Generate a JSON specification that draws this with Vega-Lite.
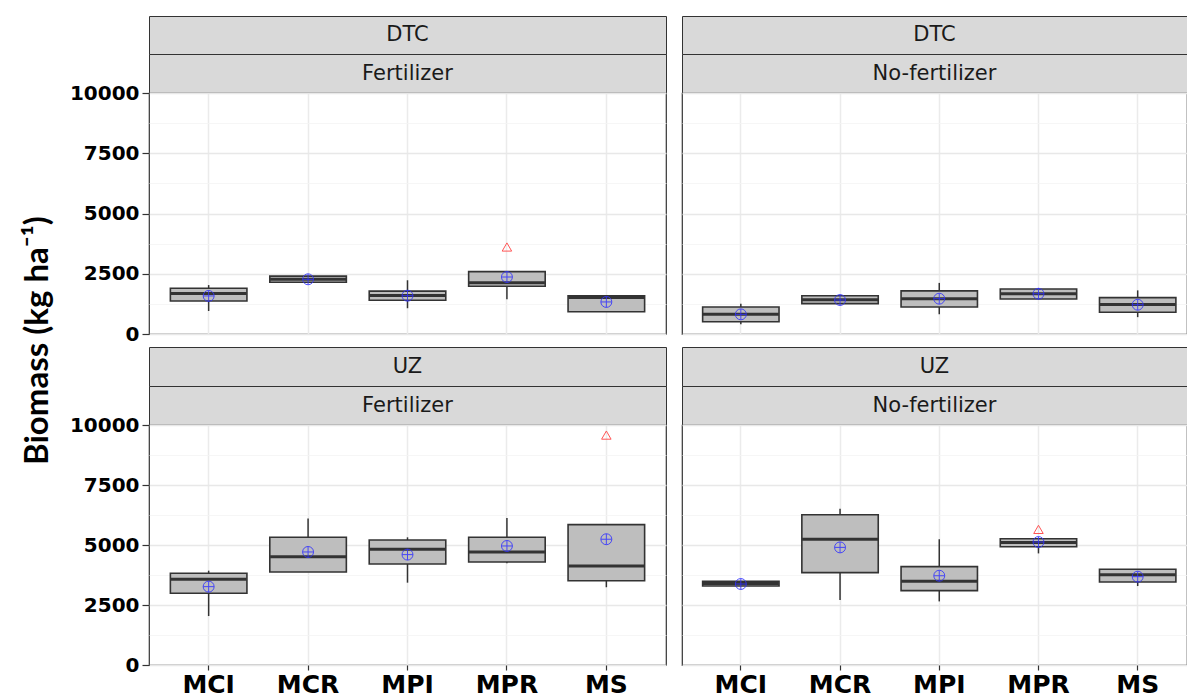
{
  "$schema": "https://vega.github.io/schema/vega-lite/v6.json",
  "padding": {"left": 21, "top": 15, "right": 0, "bottom": 0},
  "background": "white",
  "title": {"text": "Biomass (kg ha⁻¹)", "orient": "left", "anchor": "middle", "font": "Lato", "fontWeight": "bold", "fontSize": 33, "color": "#000000", "offset": 14, "dx": 16},
  "config": {"view": {"stroke": "#333333", "strokeWidth": 1.2}},
  "datasets": {
    "boxes": [
      {"site": "DTC", "treat": "Fertilizer", "cultivar": "MCI", "lo": 955, "q1": 1370, "med": 1680, "q3": 1900, "hi": 2030, "mean": 1580, "out": null},
      {"site": "DTC", "treat": "Fertilizer", "cultivar": "MCR", "lo": 2140, "q1": 2150, "med": 2270, "q3": 2400, "hi": 2420, "mean": 2270, "out": null},
      {"site": "DTC", "treat": "Fertilizer", "cultivar": "MPI", "lo": 1070, "q1": 1400, "med": 1600, "q3": 1780, "hi": 2230, "mean": 1590, "out": null},
      {"site": "DTC", "treat": "Fertilizer", "cultivar": "MPR", "lo": 1440, "q1": 1980, "med": 2130, "q3": 2590, "hi": 2590, "mean": 2365, "out": 3610},
      {"site": "DTC", "treat": "Fertilizer", "cultivar": "MS", "lo": 925, "q1": 925, "med": 1510, "q3": 1590, "hi": 1590, "mean": 1330, "out": null},
      {"site": "DTC", "treat": "No-fertilizer", "cultivar": "MCI", "lo": 400, "q1": 510, "med": 820, "q3": 1120, "hi": 1260, "mean": 815, "out": null},
      {"site": "DTC", "treat": "No-fertilizer", "cultivar": "MCR", "lo": 1260, "q1": 1260, "med": 1420, "q3": 1590, "hi": 1590, "mean": 1410, "out": null},
      {"site": "DTC", "treat": "No-fertilizer", "cultivar": "MPI", "lo": 820, "q1": 1120, "med": 1460, "q3": 1790, "hi": 2120, "mean": 1465, "out": null},
      {"site": "DTC", "treat": "No-fertilizer", "cultivar": "MPR", "lo": 1450, "q1": 1450, "med": 1670, "q3": 1870, "hi": 1870, "mean": 1670, "out": null},
      {"site": "DTC", "treat": "No-fertilizer", "cultivar": "MS", "lo": 700, "q1": 900, "med": 1220, "q3": 1510, "hi": 1810, "mean": 1215, "out": null},
      {"site": "UZ", "treat": "Fertilizer", "cultivar": "MCI", "lo": 2040, "q1": 2990, "med": 3570, "q3": 3820, "hi": 3930, "mean": 3265, "out": null},
      {"site": "UZ", "treat": "Fertilizer", "cultivar": "MCR", "lo": 3875, "q1": 3875, "med": 4510, "q3": 5320, "hi": 6100, "mean": 4710, "out": null},
      {"site": "UZ", "treat": "Fertilizer", "cultivar": "MPI", "lo": 3430, "q1": 4210, "med": 4820, "q3": 5210, "hi": 5320, "mean": 4600, "out": null},
      {"site": "UZ", "treat": "Fertilizer", "cultivar": "MPR", "lo": 4240, "q1": 4290, "med": 4710, "q3": 5320, "hi": 6125, "mean": 4960, "out": null},
      {"site": "UZ", "treat": "Fertilizer", "cultivar": "MS", "lo": 3240, "q1": 3510, "med": 4125, "q3": 5850, "hi": 5850, "mean": 5240, "out": 9580},
      {"site": "UZ", "treat": "No-fertilizer", "cultivar": "MCI", "lo": 3290, "q1": 3290, "med": 3400, "q3": 3490, "hi": 3490, "mean": 3375, "out": null},
      {"site": "UZ", "treat": "No-fertilizer", "cultivar": "MCR", "lo": 2710, "q1": 3850, "med": 5240, "q3": 6260, "hi": 6510, "mean": 4900, "out": null},
      {"site": "UZ", "treat": "No-fertilizer", "cultivar": "MPI", "lo": 2650, "q1": 3100, "med": 3490, "q3": 4100, "hi": 5240, "mean": 3720, "out": null},
      {"site": "UZ", "treat": "No-fertilizer", "cultivar": "MPR", "lo": 4650, "q1": 4930, "med": 5100, "q3": 5260, "hi": 5260, "mean": 5125, "out": 5650},
      {"site": "UZ", "treat": "No-fertilizer", "cultivar": "MS", "lo": 3290, "q1": 3460, "med": 3760, "q3": 3990, "hi": 3990, "mean": 3680, "out": null}
    ]
  },
  "vconcat": [
    {
      "hconcat": [
        {
          "vconcat": [
            {"width": 517, "height": 38, "data": {"values": [{"label": "DTC"}]}, "view": {"fill": "#D9D9D9", "stroke": "#333333"}, "mark": {"type": "text", "font": "DejaVu Sans", "fontSize": 21, "color": "#1A1A1A"}, "encoding": {"text": {"field": "label"}}},
            {"width": 517, "height": 39, "data": {"values": [{"label": "Fertilizer"}]}, "view": {"fill": "#D9D9D9", "stroke": "#333333"}, "mark": {"type": "text", "font": "DejaVu Sans", "fontSize": 21, "color": "#1A1A1A"}, "encoding": {"text": {"field": "label"}}},
            {
              "width": 517, "height": 241,
              "data": {"name": "boxes"},
              "transform": [{"filter": "datum.site === 'DTC' && datum.treat === 'Fertilizer'"}],
              "encoding": {"x": {"field": "cultivar", "type": "nominal", "sort": ["MCI", "MCR", "MPI", "MPR", "MS"], "scale": {"paddingInner": 0.23, "paddingOuter": 0.215}, "axis": {"title": null, "bandPosition": 0.5, "labels": false, "ticks": false, "domain": false, "grid": true, "gridColor": "#EBEBEB", "gridWidth": 1.5}}},
              "layer": [
                {"mark": {"type": "rule", "color": "#333333", "strokeWidth": 1.5}, "encoding": {"y": {"field": "lo", "type": "quantitative", "scale": {"domain": [0, 10000], "nice": false}, "axis": {"title": null, "values": [0, 1250, 2500, 3750, 5000, 6250, 7500, 8750, 10000], "format": "d", "labelExpr": "datum.value % 2500 === 0 ? datum.label : ''", "labelFont": "DejaVu Sans", "labelFontWeight": "bold", "labelFontSize": 20, "labelColor": "#000000", "tickSize": 7, "tickWidth": 1.2, "tickColor": {"condition": {"test": "datum.value % 2500 !== 0", "value": "transparent"}, "value": "#333333"}, "labelPadding": 3, "domain": false, "grid": true, "gridColor": {"condition": {"test": "datum.value % 2500 !== 0", "value": "#F4F4F4"}, "value": "#E8E8E8"}, "gridWidth": {"condition": {"test": "datum.value % 2500 !== 0", "value": 0.8}, "value": 1.3}}}, "y2": {"field": "hi"}}},
                {"mark": {"type": "bar", "fill": "#BEBEBE", "stroke": "#333333", "strokeWidth": 1.6}, "encoding": {"y": {"field": "q1", "type": "quantitative", "axis": {"title": null, "values": [0, 1250, 2500, 3750, 5000, 6250, 7500, 8750, 10000], "format": "d", "labelExpr": "datum.value % 2500 === 0 ? datum.label : ''", "labelFont": "DejaVu Sans", "labelFontWeight": "bold", "labelFontSize": 20, "labelColor": "#000000", "tickSize": 7, "tickWidth": 1.2, "tickColor": {"condition": {"test": "datum.value % 2500 !== 0", "value": "transparent"}, "value": "#333333"}, "labelPadding": 3, "domain": false, "grid": true, "gridColor": {"condition": {"test": "datum.value % 2500 !== 0", "value": "#F4F4F4"}, "value": "#E8E8E8"}, "gridWidth": {"condition": {"test": "datum.value % 2500 !== 0", "value": 0.8}, "value": 1.3}}}, "y2": {"field": "q3"}}},
                {"mark": {"type": "tick", "color": "#333333", "thickness": 3, "size": 76, "opacity": 1}, "encoding": {"y": {"field": "med", "type": "quantitative", "axis": {"title": null, "values": [0, 1250, 2500, 3750, 5000, 6250, 7500, 8750, 10000], "format": "d", "labelExpr": "datum.value % 2500 === 0 ? datum.label : ''", "labelFont": "DejaVu Sans", "labelFontWeight": "bold", "labelFontSize": 20, "labelColor": "#000000", "tickSize": 7, "tickWidth": 1.2, "tickColor": {"condition": {"test": "datum.value % 2500 !== 0", "value": "transparent"}, "value": "#333333"}, "labelPadding": 3, "domain": false, "grid": true, "gridColor": {"condition": {"test": "datum.value % 2500 !== 0", "value": "#F4F4F4"}, "value": "#E8E8E8"}, "gridWidth": {"condition": {"test": "datum.value % 2500 !== 0", "value": 0.8}, "value": 1.3}}}}},
                {"mark": {"type": "point", "shape": "M-1,0A1,1,0,1,1,1,0A1,1,0,1,1,-1,0M-1,0L1,0M0,-1L0,1", "filled": false, "stroke": "#3333FF", "strokeWidth": 1, "size": 120, "opacity": 0.85}, "encoding": {"y": {"field": "mean", "type": "quantitative", "axis": {"title": null, "values": [0, 1250, 2500, 3750, 5000, 6250, 7500, 8750, 10000], "format": "d", "labelExpr": "datum.value % 2500 === 0 ? datum.label : ''", "labelFont": "DejaVu Sans", "labelFontWeight": "bold", "labelFontSize": 20, "labelColor": "#000000", "tickSize": 7, "tickWidth": 1.2, "tickColor": {"condition": {"test": "datum.value % 2500 !== 0", "value": "transparent"}, "value": "#333333"}, "labelPadding": 3, "domain": false, "grid": true, "gridColor": {"condition": {"test": "datum.value % 2500 !== 0", "value": "#F4F4F4"}, "value": "#E8E8E8"}, "gridWidth": {"condition": {"test": "datum.value % 2500 !== 0", "value": 0.8}, "value": 1.3}}}}},
                {"mark": {"type": "point", "shape": "triangle-up", "filled": false, "stroke": "#FF5555", "strokeWidth": 1, "size": 90, "opacity": 1}, "encoding": {"y": {"field": "out", "type": "quantitative", "axis": {"title": null, "values": [0, 1250, 2500, 3750, 5000, 6250, 7500, 8750, 10000], "format": "d", "labelExpr": "datum.value % 2500 === 0 ? datum.label : ''", "labelFont": "DejaVu Sans", "labelFontWeight": "bold", "labelFontSize": 20, "labelColor": "#000000", "tickSize": 7, "tickWidth": 1.2, "tickColor": {"condition": {"test": "datum.value % 2500 !== 0", "value": "transparent"}, "value": "#333333"}, "labelPadding": 3, "domain": false, "grid": true, "gridColor": {"condition": {"test": "datum.value % 2500 !== 0", "value": "#F4F4F4"}, "value": "#E8E8E8"}, "gridWidth": {"condition": {"test": "datum.value % 2500 !== 0", "value": 0.8}, "value": 1.3}}}}}
              ]
            }
          ],
          "spacing": 0, "bounds": "flush"
        },
        {
          "vconcat": [
            {"width": 505, "height": 38, "data": {"values": [{"label": "DTC"}]}, "view": {"fill": "#D9D9D9", "stroke": "#333333"}, "mark": {"type": "text", "font": "DejaVu Sans", "fontSize": 21, "color": "#1A1A1A"}, "encoding": {"text": {"field": "label"}}},
            {"width": 505, "height": 39, "data": {"values": [{"label": "No-fertilizer"}]}, "view": {"fill": "#D9D9D9", "stroke": "#333333"}, "mark": {"type": "text", "font": "DejaVu Sans", "fontSize": 21, "color": "#1A1A1A"}, "encoding": {"text": {"field": "label"}}},
            {
              "width": 505, "height": 241,
              "data": {"name": "boxes"},
              "transform": [{"filter": "datum.site === 'DTC' && datum.treat === 'No-fertilizer'"}],
              "encoding": {"x": {"field": "cultivar", "type": "nominal", "sort": ["MCI", "MCR", "MPI", "MPR", "MS"], "scale": {"paddingInner": 0.23, "paddingOuter": 0.16, "align": 0.65}, "axis": {"title": null, "bandPosition": 0.5, "labels": false, "ticks": false, "domain": false, "grid": true, "gridColor": "#EBEBEB", "gridWidth": 1.5}}},
              "layer": [
                {"mark": {"type": "rule", "color": "#333333", "strokeWidth": 1.5}, "encoding": {"y": {"field": "lo", "type": "quantitative", "scale": {"domain": [0, 10000], "nice": false}, "axis": {"title": null, "values": [0, 1250, 2500, 3750, 5000, 6250, 7500, 8750, 10000], "labels": false, "ticks": false, "domain": false, "grid": true, "gridColor": {"condition": {"test": "datum.value % 2500 !== 0", "value": "#F4F4F4"}, "value": "#E8E8E8"}, "gridWidth": {"condition": {"test": "datum.value % 2500 !== 0", "value": 0.8}, "value": 1.3}}}, "y2": {"field": "hi"}}},
                {"mark": {"type": "bar", "fill": "#BEBEBE", "stroke": "#333333", "strokeWidth": 1.6}, "encoding": {"y": {"field": "q1", "type": "quantitative", "axis": {"title": null, "values": [0, 1250, 2500, 3750, 5000, 6250, 7500, 8750, 10000], "labels": false, "ticks": false, "domain": false, "grid": true, "gridColor": {"condition": {"test": "datum.value % 2500 !== 0", "value": "#F4F4F4"}, "value": "#E8E8E8"}, "gridWidth": {"condition": {"test": "datum.value % 2500 !== 0", "value": 0.8}, "value": 1.3}}}, "y2": {"field": "q3"}}},
                {"mark": {"type": "tick", "color": "#333333", "thickness": 3, "size": 76, "opacity": 1}, "encoding": {"y": {"field": "med", "type": "quantitative", "axis": {"title": null, "values": [0, 1250, 2500, 3750, 5000, 6250, 7500, 8750, 10000], "labels": false, "ticks": false, "domain": false, "grid": true, "gridColor": {"condition": {"test": "datum.value % 2500 !== 0", "value": "#F4F4F4"}, "value": "#E8E8E8"}, "gridWidth": {"condition": {"test": "datum.value % 2500 !== 0", "value": 0.8}, "value": 1.3}}}}},
                {"mark": {"type": "point", "shape": "M-1,0A1,1,0,1,1,1,0A1,1,0,1,1,-1,0M-1,0L1,0M0,-1L0,1", "filled": false, "stroke": "#3333FF", "strokeWidth": 1, "size": 120, "opacity": 0.85}, "encoding": {"y": {"field": "mean", "type": "quantitative", "axis": {"title": null, "values": [0, 1250, 2500, 3750, 5000, 6250, 7500, 8750, 10000], "labels": false, "ticks": false, "domain": false, "grid": true, "gridColor": {"condition": {"test": "datum.value % 2500 !== 0", "value": "#F4F4F4"}, "value": "#E8E8E8"}, "gridWidth": {"condition": {"test": "datum.value % 2500 !== 0", "value": 0.8}, "value": 1.3}}}}},
                {"mark": {"type": "point", "shape": "triangle-up", "filled": false, "stroke": "#FF5555", "strokeWidth": 1, "size": 90, "opacity": 1}, "encoding": {"y": {"field": "out", "type": "quantitative", "axis": {"title": null, "values": [0, 1250, 2500, 3750, 5000, 6250, 7500, 8750, 10000], "labels": false, "ticks": false, "domain": false, "grid": true, "gridColor": {"condition": {"test": "datum.value % 2500 !== 0", "value": "#F4F4F4"}, "value": "#E8E8E8"}, "gridWidth": {"condition": {"test": "datum.value % 2500 !== 0", "value": 0.8}, "value": 1.3}}}}}
              ]
            }
          ],
          "spacing": 0, "bounds": "flush"
        }
      ],
      "spacing": 14
    },
    {
      "hconcat": [
        {
          "vconcat": [
            {"width": 517, "height": 39, "data": {"values": [{"label": "UZ"}]}, "view": {"fill": "#D9D9D9", "stroke": "#333333"}, "mark": {"type": "text", "font": "DejaVu Sans", "fontSize": 21, "color": "#1A1A1A"}, "encoding": {"text": {"field": "label"}}},
            {"width": 517, "height": 39, "data": {"values": [{"label": "Fertilizer"}]}, "view": {"fill": "#D9D9D9", "stroke": "#333333"}, "mark": {"type": "text", "font": "DejaVu Sans", "fontSize": 21, "color": "#1A1A1A"}, "encoding": {"text": {"field": "label"}}},
            {
              "width": 517, "height": 240,
              "data": {"name": "boxes"},
              "transform": [{"filter": "datum.site === 'UZ' && datum.treat === 'Fertilizer'"}],
              "encoding": {"x": {"field": "cultivar", "type": "nominal", "sort": ["MCI", "MCR", "MPI", "MPR", "MS"], "scale": {"paddingInner": 0.23, "paddingOuter": 0.215}, "axis": {"title": null, "bandPosition": 0.5, "labelAngle": 0, "labelFont": "DejaVu Sans", "labelFontWeight": "bold", "labelFontSize": 25, "labelColor": "#000000", "tickSize": 5, "tickWidth": 1.2, "tickColor": "#333333", "labelPadding": 2, "domain": false, "grid": true, "gridColor": "#EBEBEB", "gridWidth": 1.5}}},
              "layer": [
                {"mark": {"type": "rule", "color": "#333333", "strokeWidth": 1.5}, "encoding": {"y": {"field": "lo", "type": "quantitative", "scale": {"domain": [0, 10000], "nice": false}, "axis": {"title": null, "values": [0, 1250, 2500, 3750, 5000, 6250, 7500, 8750, 10000], "format": "d", "labelExpr": "datum.value % 2500 === 0 ? datum.label : ''", "labelFont": "DejaVu Sans", "labelFontWeight": "bold", "labelFontSize": 20, "labelColor": "#000000", "tickSize": 7, "tickWidth": 1.2, "tickColor": {"condition": {"test": "datum.value % 2500 !== 0", "value": "transparent"}, "value": "#333333"}, "labelPadding": 3, "domain": false, "grid": true, "gridColor": {"condition": {"test": "datum.value % 2500 !== 0", "value": "#F4F4F4"}, "value": "#E8E8E8"}, "gridWidth": {"condition": {"test": "datum.value % 2500 !== 0", "value": 0.8}, "value": 1.3}}}, "y2": {"field": "hi"}}},
                {"mark": {"type": "bar", "fill": "#BEBEBE", "stroke": "#333333", "strokeWidth": 1.6}, "encoding": {"y": {"field": "q1", "type": "quantitative", "axis": {"title": null, "values": [0, 1250, 2500, 3750, 5000, 6250, 7500, 8750, 10000], "format": "d", "labelExpr": "datum.value % 2500 === 0 ? datum.label : ''", "labelFont": "DejaVu Sans", "labelFontWeight": "bold", "labelFontSize": 20, "labelColor": "#000000", "tickSize": 7, "tickWidth": 1.2, "tickColor": {"condition": {"test": "datum.value % 2500 !== 0", "value": "transparent"}, "value": "#333333"}, "labelPadding": 3, "domain": false, "grid": true, "gridColor": {"condition": {"test": "datum.value % 2500 !== 0", "value": "#F4F4F4"}, "value": "#E8E8E8"}, "gridWidth": {"condition": {"test": "datum.value % 2500 !== 0", "value": 0.8}, "value": 1.3}}}, "y2": {"field": "q3"}}},
                {"mark": {"type": "tick", "color": "#333333", "thickness": 3, "size": 76, "opacity": 1}, "encoding": {"y": {"field": "med", "type": "quantitative", "axis": {"title": null, "values": [0, 1250, 2500, 3750, 5000, 6250, 7500, 8750, 10000], "format": "d", "labelExpr": "datum.value % 2500 === 0 ? datum.label : ''", "labelFont": "DejaVu Sans", "labelFontWeight": "bold", "labelFontSize": 20, "labelColor": "#000000", "tickSize": 7, "tickWidth": 1.2, "tickColor": {"condition": {"test": "datum.value % 2500 !== 0", "value": "transparent"}, "value": "#333333"}, "labelPadding": 3, "domain": false, "grid": true, "gridColor": {"condition": {"test": "datum.value % 2500 !== 0", "value": "#F4F4F4"}, "value": "#E8E8E8"}, "gridWidth": {"condition": {"test": "datum.value % 2500 !== 0", "value": 0.8}, "value": 1.3}}}}},
                {"mark": {"type": "point", "shape": "M-1,0A1,1,0,1,1,1,0A1,1,0,1,1,-1,0M-1,0L1,0M0,-1L0,1", "filled": false, "stroke": "#3333FF", "strokeWidth": 1, "size": 120, "opacity": 0.85}, "encoding": {"y": {"field": "mean", "type": "quantitative", "axis": {"title": null, "values": [0, 1250, 2500, 3750, 5000, 6250, 7500, 8750, 10000], "format": "d", "labelExpr": "datum.value % 2500 === 0 ? datum.label : ''", "labelFont": "DejaVu Sans", "labelFontWeight": "bold", "labelFontSize": 20, "labelColor": "#000000", "tickSize": 7, "tickWidth": 1.2, "tickColor": {"condition": {"test": "datum.value % 2500 !== 0", "value": "transparent"}, "value": "#333333"}, "labelPadding": 3, "domain": false, "grid": true, "gridColor": {"condition": {"test": "datum.value % 2500 !== 0", "value": "#F4F4F4"}, "value": "#E8E8E8"}, "gridWidth": {"condition": {"test": "datum.value % 2500 !== 0", "value": 0.8}, "value": 1.3}}}}},
                {"mark": {"type": "point", "shape": "triangle-up", "filled": false, "stroke": "#FF5555", "strokeWidth": 1, "size": 90, "opacity": 1}, "encoding": {"y": {"field": "out", "type": "quantitative", "axis": {"title": null, "values": [0, 1250, 2500, 3750, 5000, 6250, 7500, 8750, 10000], "format": "d", "labelExpr": "datum.value % 2500 === 0 ? datum.label : ''", "labelFont": "DejaVu Sans", "labelFontWeight": "bold", "labelFontSize": 20, "labelColor": "#000000", "tickSize": 7, "tickWidth": 1.2, "tickColor": {"condition": {"test": "datum.value % 2500 !== 0", "value": "transparent"}, "value": "#333333"}, "labelPadding": 3, "domain": false, "grid": true, "gridColor": {"condition": {"test": "datum.value % 2500 !== 0", "value": "#F4F4F4"}, "value": "#E8E8E8"}, "gridWidth": {"condition": {"test": "datum.value % 2500 !== 0", "value": 0.8}, "value": 1.3}}}}}
              ]
            }
          ],
          "spacing": 0, "bounds": "flush"
        },
        {
          "vconcat": [
            {"width": 505, "height": 39, "data": {"values": [{"label": "UZ"}]}, "view": {"fill": "#D9D9D9", "stroke": "#333333"}, "mark": {"type": "text", "font": "DejaVu Sans", "fontSize": 21, "color": "#1A1A1A"}, "encoding": {"text": {"field": "label"}}},
            {"width": 505, "height": 39, "data": {"values": [{"label": "No-fertilizer"}]}, "view": {"fill": "#D9D9D9", "stroke": "#333333"}, "mark": {"type": "text", "font": "DejaVu Sans", "fontSize": 21, "color": "#1A1A1A"}, "encoding": {"text": {"field": "label"}}},
            {
              "width": 505, "height": 240,
              "data": {"name": "boxes"},
              "transform": [{"filter": "datum.site === 'UZ' && datum.treat === 'No-fertilizer'"}],
              "encoding": {"x": {"field": "cultivar", "type": "nominal", "sort": ["MCI", "MCR", "MPI", "MPR", "MS"], "scale": {"paddingInner": 0.23, "paddingOuter": 0.16, "align": 0.65}, "axis": {"title": null, "bandPosition": 0.5, "labelAngle": 0, "labelFont": "DejaVu Sans", "labelFontWeight": "bold", "labelFontSize": 25, "labelColor": "#000000", "tickSize": 5, "tickWidth": 1.2, "tickColor": "#333333", "labelPadding": 2, "domain": false, "grid": true, "gridColor": "#EBEBEB", "gridWidth": 1.5}}},
              "layer": [
                {"mark": {"type": "rule", "color": "#333333", "strokeWidth": 1.5}, "encoding": {"y": {"field": "lo", "type": "quantitative", "scale": {"domain": [0, 10000], "nice": false}, "axis": {"title": null, "values": [0, 1250, 2500, 3750, 5000, 6250, 7500, 8750, 10000], "labels": false, "ticks": false, "domain": false, "grid": true, "gridColor": {"condition": {"test": "datum.value % 2500 !== 0", "value": "#F4F4F4"}, "value": "#E8E8E8"}, "gridWidth": {"condition": {"test": "datum.value % 2500 !== 0", "value": 0.8}, "value": 1.3}}}, "y2": {"field": "hi"}}},
                {"mark": {"type": "bar", "fill": "#BEBEBE", "stroke": "#333333", "strokeWidth": 1.6}, "encoding": {"y": {"field": "q1", "type": "quantitative", "axis": {"title": null, "values": [0, 1250, 2500, 3750, 5000, 6250, 7500, 8750, 10000], "labels": false, "ticks": false, "domain": false, "grid": true, "gridColor": {"condition": {"test": "datum.value % 2500 !== 0", "value": "#F4F4F4"}, "value": "#E8E8E8"}, "gridWidth": {"condition": {"test": "datum.value % 2500 !== 0", "value": 0.8}, "value": 1.3}}}, "y2": {"field": "q3"}}},
                {"mark": {"type": "tick", "color": "#333333", "thickness": 3, "size": 76, "opacity": 1}, "encoding": {"y": {"field": "med", "type": "quantitative", "axis": {"title": null, "values": [0, 1250, 2500, 3750, 5000, 6250, 7500, 8750, 10000], "labels": false, "ticks": false, "domain": false, "grid": true, "gridColor": {"condition": {"test": "datum.value % 2500 !== 0", "value": "#F4F4F4"}, "value": "#E8E8E8"}, "gridWidth": {"condition": {"test": "datum.value % 2500 !== 0", "value": 0.8}, "value": 1.3}}}}},
                {"mark": {"type": "point", "shape": "M-1,0A1,1,0,1,1,1,0A1,1,0,1,1,-1,0M-1,0L1,0M0,-1L0,1", "filled": false, "stroke": "#3333FF", "strokeWidth": 1, "size": 120, "opacity": 0.85}, "encoding": {"y": {"field": "mean", "type": "quantitative", "axis": {"title": null, "values": [0, 1250, 2500, 3750, 5000, 6250, 7500, 8750, 10000], "labels": false, "ticks": false, "domain": false, "grid": true, "gridColor": {"condition": {"test": "datum.value % 2500 !== 0", "value": "#F4F4F4"}, "value": "#E8E8E8"}, "gridWidth": {"condition": {"test": "datum.value % 2500 !== 0", "value": 0.8}, "value": 1.3}}}}},
                {"mark": {"type": "point", "shape": "triangle-up", "filled": false, "stroke": "#FF5555", "strokeWidth": 1, "size": 90, "opacity": 1}, "encoding": {"y": {"field": "out", "type": "quantitative", "axis": {"title": null, "values": [0, 1250, 2500, 3750, 5000, 6250, 7500, 8750, 10000], "labels": false, "ticks": false, "domain": false, "grid": true, "gridColor": {"condition": {"test": "datum.value % 2500 !== 0", "value": "#F4F4F4"}, "value": "#E8E8E8"}, "gridWidth": {"condition": {"test": "datum.value % 2500 !== 0", "value": 0.8}, "value": 1.3}}}}}
              ]
            }
          ],
          "spacing": 0, "bounds": "flush"
        }
      ],
      "spacing": 14
    }
  ],
  "spacing": 1
}
